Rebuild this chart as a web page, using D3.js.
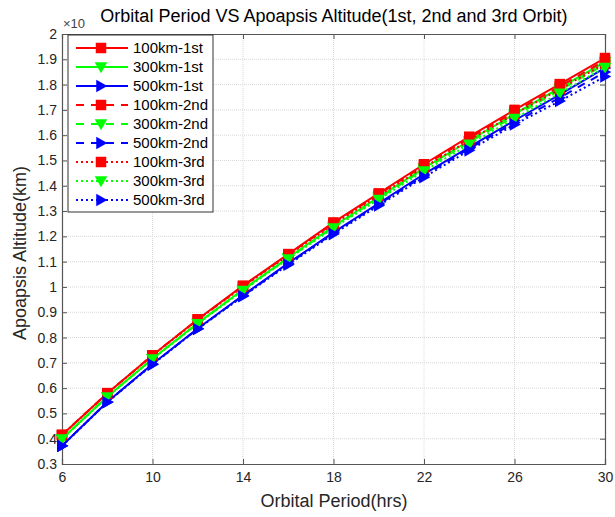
<!DOCTYPE html>
<html><head><meta charset="utf-8">
<script src="https://cdn.jsdelivr.net/npm/d3@7/dist/d3.min.js"></script>
<style>body{margin:0;background:#fff}svg{display:block;font-family:"Liberation Sans",Arial,sans-serif}</style>
</head><body>
<svg id="c" width="615" height="517"></svg>
<script>
const periods = [6,8,10,12,14,16,18,20,22,24,26,28,30];
const xTicks = [6,10,14,18,22,26,30];
const yTicks = [0.3,0.4,0.5,0.6,0.7,0.8,0.9,1,1.1,1.2,1.3,1.4,1.5,1.6,1.7,1.8,1.9,2];
const red1st   = [0.415,0.580,0.730,0.872,1.005,1.130,1.255,1.370,1.485,1.594,1.700,1.802,1.905];
const red2nd   = [0.415,0.580,0.730,0.871,1.003,1.128,1.252,1.366,1.480,1.588,1.692,1.793,1.895];
const red3rd   = [0.414,0.579,0.729,0.870,1.001,1.125,1.248,1.361,1.473,1.580,1.683,1.782,1.883];
const green1st = [0.400,0.566,0.716,0.857,0.990,1.116,1.240,1.355,1.470,1.578,1.684,1.787,1.890];
const green2nd = [0.400,0.566,0.716,0.856,0.988,1.114,1.237,1.351,1.465,1.572,1.676,1.778,1.880];
const green3rd = [0.399,0.565,0.715,0.855,0.986,1.111,1.233,1.346,1.458,1.564,1.666,1.766,1.868];
const blue1st  = [0.372,0.545,0.695,0.836,0.967,1.094,1.216,1.331,1.446,1.553,1.658,1.760,1.866];
const blue2nd  = [0.372,0.545,0.694,0.835,0.965,1.091,1.213,1.327,1.440,1.547,1.650,1.748,1.850];
const blue3rd  = [0.371,0.544,0.693,0.834,0.963,1.088,1.209,1.322,1.434,1.540,1.642,1.735,1.832];
const seriesNames = ["100km-1st","300km-1st","500km-1st","100km-2nd","300km-2nd","500km-2nd","100km-3rd","300km-3rd","500km-3rd"];
const seriesValues = [red1st,green1st,blue1st,red2nd,green2nd,blue2nd,red3rd,green3rd,blue3rd];

const colors = ["#ff0000","#00ff00","#0000ff"];
const dashes = [null,"8,7","2,3"];
const markers = ["square","down","right"];

const svg = d3.select("#c");
const L=62,R=605,T=34,B=464;
const x = d3.scaleLinear().domain([6,30]).range([L,R]);
const y = d3.scaleLinear().domain([0.3,2]).range([B,T]);

svg.append("rect").attr("x",L).attr("y",T).attr("width",R-L).attr("height",B-T).attr("fill","#fff");

// grid
const g = svg.append("g");
g.selectAll(".gx").data(xTicks.slice(1,-1)).join("line")
 .attr("x1",d=>x(d)).attr("x2",d=>x(d)).attr("y1",T).attr("y2",B)
 .attr("stroke","#d8d8d8").attr("stroke-dasharray","1,1");
g.selectAll(".gy").data(yTicks.slice(1,-1)).join("line")
 .attr("y1",d=>y(d)).attr("y2",d=>y(d)).attr("x1",L).attr("x2",R)
 .attr("stroke","#d8d8d8").attr("stroke-dasharray","1,1");

// axes
const axCol="#555";
const xb = svg.append("g").attr("transform",`translate(0,${B})`).call(d3.axisBottom(x).tickValues(xTicks).tickSize(-5).tickPadding(8).tickFormat(d3.format("d")));
const xt = svg.append("g").attr("transform",`translate(0,${T})`).call(d3.axisTop(x).tickValues(xTicks).tickSize(-5).tickFormat(""));
const yl = svg.append("g").attr("transform",`translate(${L},0)`).call(d3.axisLeft(y).tickValues(yTicks).tickSize(-5).tickPadding(5).tickFormat(d=>d3.format("")(+d.toFixed(1))));
const yr = svg.append("g").attr("transform",`translate(${R},0)`).call(d3.axisRight(y).tickValues(yTicks).tickSize(-5).tickFormat(""));
[xb,xt,yl,yr].forEach(a=>{
  a.selectAll("path").attr("stroke",axCol).attr("stroke-width",1.2);
  a.selectAll("line").attr("stroke",axCol);
  a.selectAll("text").attr("fill","#262626").attr("font-size",14).attr("font-family","Liberation Sans, Arial, sans-serif");
});

function markerPath(type,s){
  if(type==="square") return `M${-s/2},${-s/2}h${s}v${s}h${-s}Z`;
  if(type==="down") return `M${-s*0.6},${-s*0.45}L${s*0.6},${-s*0.45}L0,${s*0.6}Z`;
  return `M${-s*0.45},${-s*0.6}L${s*0.6},0L${-s*0.45},${s*0.6}Z`;
}

const line = d3.line().x((d,i)=>x(periods[i])).y(d=>y(d));
const plot = svg.append("g");
seriesValues.forEach((vals,k)=>{
  const c=colors[k%3], ds=dashes[Math.floor(k/3)], m=markers[k%3];
  plot.append("path").datum(vals).attr("d",line).attr("fill","none")
   .attr("stroke",c).attr("stroke-width",2).attr("stroke-dasharray",ds);
  plot.selectAll(null).data(vals).join("path")
   .attr("transform",(d,i)=>`translate(${x(periods[i])},${y(d)})`)
   .attr("d",markerPath(m,10.5)).attr("fill",c);
});

// legend
const lg = svg.append("g");
lg.append("rect").attr("x",68).attr("y",35).attr("width",145).attr("height",177)
 .attr("fill","#fff").attr("stroke","#333").attr("stroke-width",1);
seriesNames.forEach((n,k)=>{
  const yy=48+k*19;
  const c=colors[k%3], ds=dashes[Math.floor(k/3)], m=markers[k%3];
  lg.append("line").attr("x1",76).attr("x2",128).attr("y1",yy).attr("y2",yy)
   .attr("stroke",c).attr("stroke-width",2).attr("stroke-dasharray",ds);
  lg.append("path").attr("transform",`translate(101,${yy})`).attr("d",markerPath(m,10.5)).attr("fill",c);
  lg.append("text").attr("x",133).attr("y",yy+5).attr("font-size",15).attr("fill","#000").text(n);
});

// exponent & titles
svg.append("text").attr("x",63).attr("y",28).attr("font-size",13).attr("fill","#444").text("×10");
svg.append("text").attr("x",334).attr("y",22).attr("text-anchor","middle").attr("font-size",18).attr("fill","#000")
 .text("Orbital Period VS Apoapsis Altitude(1st, 2nd and 3rd Orbit)");
svg.append("text").attr("x",334).attr("y",507).attr("text-anchor","middle").attr("font-size",18).attr("fill","#262626")
 .text("Orbital Period(hrs)");
svg.append("text").attr("transform","translate(26,340) rotate(-90)").attr("text-anchor","start").attr("font-size",18).attr("fill","#262626")
 .text("Apoapsis Altitude(km)");
</script>
</body></html>
